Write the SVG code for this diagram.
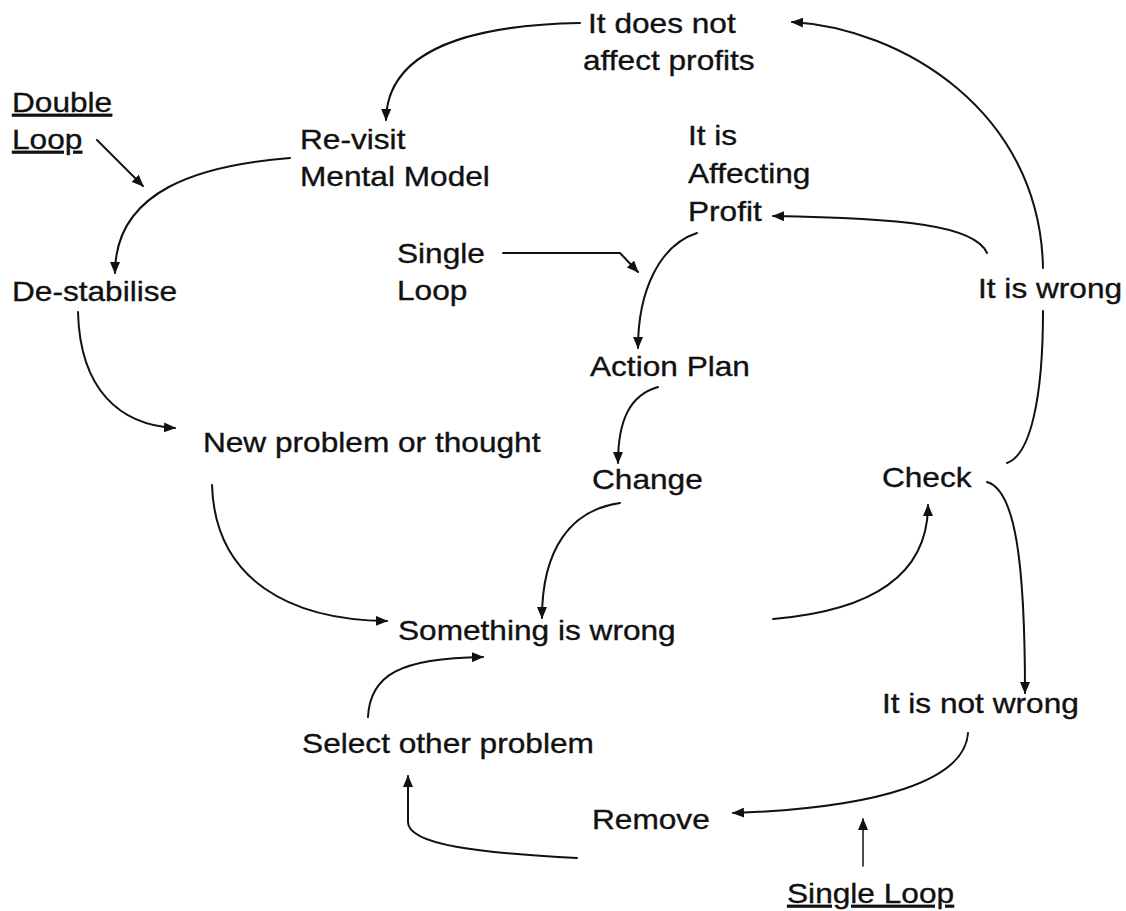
<svg xmlns="http://www.w3.org/2000/svg" width="1126" height="911" viewBox="0 0 1126 911">
  <style>
    .lbl { font-family: "Liberation Sans", Arial, sans-serif; font-size: 28px; fill: #111; stroke: #111; stroke-width: 0.35; }
    .ul { text-decoration: underline; }
    .wire { fill: none; stroke: #111; stroke-width: 2; stroke-linecap: round; }
    .thin { stroke-width: 1.5; }
  </style>
  <defs>
    <marker id="arrow" markerUnits="userSpaceOnUse" markerWidth="12" markerHeight="10" refX="11" refY="5" orient="auto">
      <path d="M0,0 L12,5 L0,10 z" fill="#111"/>
    </marker>
  </defs>
  <rect width="1126" height="911" fill="#fff"/>

  <!-- connectors -->
  <g id="connectors">
    <path class="wire" d="M580,23 C470,25 387,50 386,120" marker-end="url(#arrow)"/>
    <path class="wire" d="M1007,463 C1030,455 1043,400 1043,311"/>
    <path class="wire" d="M1043,268 C1040,110 900,28 792,22" marker-end="url(#arrow)"/>
    <path class="wire" d="M987,253 C975,225 900,218 773,216" marker-end="url(#arrow)"/>
    <path class="wire" d="M697,233 C660,245 638,290 638,348" marker-end="url(#arrow)"/>
    <path class="wire" d="M503,253 L620,253 L638,272" marker-end="url(#arrow)"/>
    <path class="wire" d="M658,387 C630,395 618,420 618,463" marker-end="url(#arrow)"/>
    <path class="wire" d="M620,503 C570,510 542,550 542,618" marker-end="url(#arrow)"/>
    <path class="wire" d="M97,140 L143,186" marker-end="url(#arrow)"/>
    <path class="wire" d="M290,158 C200,165 115,190 115,273" marker-end="url(#arrow)"/>
    <path class="wire" d="M78,312 C80,390 120,425 175,428" marker-end="url(#arrow)"/>
    <path class="wire" d="M212,485 C215,580 290,620 387,621" marker-end="url(#arrow)"/>
    <path class="wire" d="M773,619 C880,610 928,570 928,505" marker-end="url(#arrow)"/>
    <path class="wire" d="M987,482 C1015,490 1025,560 1025,693" marker-end="url(#arrow)"/>
    <path class="wire" d="M968,733 C965,780 880,808 733,813" marker-end="url(#arrow)"/>
    <path class="wire" d="M577,858 C480,853 408,845 408,822 L408,776" marker-end="url(#arrow)"/>
    <path class="wire" d="M368,717 C370,675 400,658 483,657" marker-end="url(#arrow)"/>
    <path class="wire thin" d="M863,866 L863,819" marker-end="url(#arrow)"/>
  </g>

  <!-- nodes (text widened slightly to the face used in the chart) -->
  <g id="no-profit-effect" transform="scale(1.13 1)">
    <text class="lbl" x="520.4" y="33">It does not</text>
    <text class="lbl" x="515.9" y="70">affect profits</text>
  </g>
  <g id="double-loop" transform="scale(1.13 1)">
    <text class="lbl ul" x="10.6" y="112">Double</text>
    <text class="lbl ul" x="10.6" y="149">Loop</text>
  </g>
  <g id="revisit-model" transform="scale(1.13 1)">
    <text class="lbl" x="265.5" y="149">Re-visit</text>
    <text class="lbl" x="265.5" y="186">Mental Model</text>
  </g>
  <g id="affecting-profit" transform="scale(1.13 1)">
    <text class="lbl" x="608.8" y="145">It is</text>
    <text class="lbl" x="608.8" y="183">Affecting</text>
    <text class="lbl" x="608.8" y="221">Profit</text>
  </g>
  <g id="single-loop-top" transform="scale(1.13 1)">
    <text class="lbl" x="351.3" y="263">Single</text>
    <text class="lbl" x="351.3" y="300">Loop</text>
  </g>
  <g id="destabilise" transform="scale(1.13 1)">
    <text class="lbl" x="10.6" y="301">De-stabilise</text>
  </g>
  <g id="it-is-wrong" transform="scale(1.13 1)">
    <text class="lbl" x="865.5" y="298">It is wrong</text>
  </g>
  <g id="action-plan" transform="scale(1.13 1)">
    <text class="lbl" x="522.1" y="376">Action Plan</text>
  </g>
  <g id="new-problem" transform="scale(1.13 1)">
    <text class="lbl" x="179.6" y="452">New problem or thought</text>
  </g>
  <g id="change" transform="scale(1.13 1)">
    <text class="lbl" x="523.9" y="489">Change</text>
  </g>
  <g id="check" transform="scale(1.13 1)">
    <text class="lbl" x="780.5" y="487">Check</text>
  </g>
  <g id="something-wrong" transform="scale(1.13 1)">
    <text class="lbl" x="352.2" y="640">Something is wrong</text>
  </g>
  <g id="not-wrong" transform="scale(1.13 1)">
    <text class="lbl" x="780.5" y="713">It is not wrong</text>
  </g>
  <g id="select-other" transform="scale(1.13 1)">
    <text class="lbl" x="267.3" y="753">Select other problem</text>
  </g>
  <g id="remove" transform="scale(1.13 1)">
    <text class="lbl" x="523.9" y="829">Remove</text>
  </g>
  <g id="single-loop-bottom" transform="scale(1.13 1)">
    <text class="lbl ul" x="696.5" y="903">Single Loop</text>
  </g>
</svg>
